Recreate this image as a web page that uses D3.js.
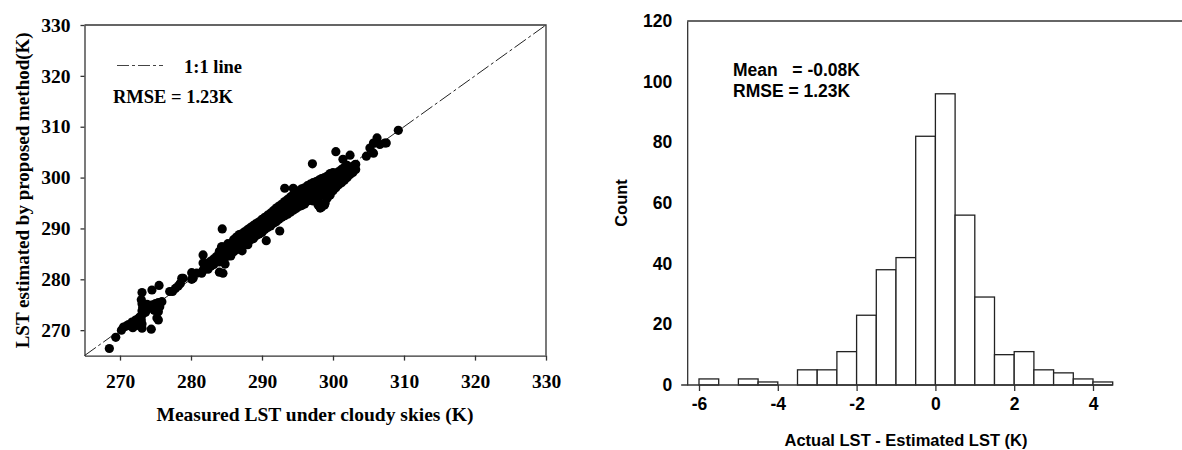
<!DOCTYPE html>
<html>
<head>
<meta charset="utf-8">
<script src="https://cdn.jsdelivr.net/npm/d3@7"></script>
<style>
  body { margin: 0; background: #fff; }
  svg { display: block; }
</style>
</head>
<body>
<svg id="chart" width="1182" height="450"></svg>
<script>
// scatter: measured LST vs estimated LST (K)
const measured = [
  268.5, 269.4, 270.2, 270.5, 270.9, 271.2, 271.5, 271.7, 272.0, 272.2, 272.4, 272.6, 272.8, 273.0, 273.1, 273.1,
  272.3, 271.8, 273.1, 273.1, 273.2, 273.1, 273.0, 273.1, 273.4, 273.8, 274.2, 274.6, 275.0, 275.4, 275.9, 275.6,
  275.2, 274.8, 274.4, 275.4, 275.2, 275.4, 274.5, 275.5, 273.6, 273.9,
  277.0, 277.4, 277.8, 278.2, 278.5, 278.7, 278.9, 280.1, 280.1, 280.3, 280.8, 281.5, 281.7, 281.7, 281.7,
  282.0, 282.0, 282.4, 282.4, 282.8, 282.8, 283.2, 283.2, 283.2, 283.6, 283.6, 284.0, 284.0, 284.0,
  284.4, 284.4, 284.4, 284.8, 284.8, 284.8, 285.2, 285.2, 285.2, 285.6, 285.6, 285.6, 286.0, 286.0, 286.0,
  286.4, 286.4, 286.4, 286.4, 286.8, 286.8, 286.8, 287.2, 287.2, 287.2, 287.2, 287.6, 287.6, 287.6,
  288.0, 288.0, 288.0, 288.0, 288.4, 288.4, 288.4, 288.8, 288.8, 288.8, 289.2, 289.2, 289.2,
  289.6, 289.6, 289.6, 290.0, 290.0, 290.0, 290.4, 290.4, 290.4, 290.8, 290.8, 290.8, 291.2, 291.2, 291.2,
  291.6, 291.6, 291.6, 292.0, 292.0, 292.0, 292.4, 292.4, 292.4, 292.8, 292.8, 292.8, 293.2, 293.2, 293.2, 293.2,
  293.6, 293.6, 293.6, 294.0, 294.0, 294.0, 294.4, 294.4, 294.4, 294.4, 294.8, 294.8, 294.8, 295.2, 295.2, 295.2,
  295.6, 295.6, 295.6, 296.0, 296.0, 296.0, 296.4, 296.4, 296.4, 296.8, 296.8, 296.8, 297.2, 297.2, 297.2,
  297.6, 297.6, 297.6, 298.0, 298.0, 298.0, 298.0, 298.4, 298.4, 298.4, 298.4, 298.8, 298.8, 298.8, 298.8,
  299.2, 299.2, 299.2, 299.2, 299.6, 299.6, 299.6, 299.6, 300.0, 300.0, 300.0, 300.0, 300.4, 300.4, 300.4,
  300.8, 300.8, 300.8, 301.2, 301.2, 301.2, 301.6, 301.6, 301.6, 302.0, 302.0, 302.0, 302.4, 302.4,
  302.8, 302.8, 303.2, 303.2,
  297.1, 300.4, 301.4, 302.4, 303.1, 302.6, 304.7, 305.2, 305.7, 306.2, 307.3, 306.6, 307.5, 309.2,
  284.4, 284.3, 284.5, 290.6, 292.5, 298.2, 297.9, 298.9, 284.0, 305.7,
];
const estimated = [
  266.4, 268.6, 270.0, 270.6, 270.8, 271.1, 271.0, 271.6, 271.4, 272.0, 271.8, 272.3, 272.6, 272.0, 271.2, 270.4,
  270.9, 270.5, 273.0, 273.8, 274.5, 275.2, 276.0, 277.4, 275.0, 275.1, 274.9, 275.0, 275.2, 275.4, 275.6, 274.6,
  274.1, 273.9, 270.2, 272.0, 272.4, 273.6, 277.9, 278.8, 273.5, 274.2,
  277.6, 277.6, 278.2, 278.7, 279.2, 280.2, 280.2, 281.3, 280.0, 280.2, 281.2, 281.2, 281.8, 283.2, 284.8,
  282.3, 283.0, 282.0, 283.2, 282.6, 283.6, 282.9, 284.0, 283.4, 283.5, 284.5, 283.4, 284.6, 285.5,
  284.0, 285.2, 286.4, 284.3, 285.6, 283.0, 284.6, 285.8, 287.0, 285.2, 286.5, 284.6, 285.4, 286.8, 287.8,
  285.8, 287.2, 288.3, 286.3, 286.2, 287.6, 288.8, 286.4, 287.8, 289.0, 285.6, 287.0, 288.3, 289.4,
  287.2, 288.6, 289.8, 286.8, 287.8, 289.0, 290.2, 288.0, 289.4, 290.6, 288.6, 289.8, 291.0,
  288.9, 290.3, 291.3, 289.2, 290.6, 291.8, 289.8, 291.0, 292.2, 290.2, 291.5, 292.6, 290.5, 291.9, 293.0,
  291.0, 292.4, 293.5, 291.3, 292.7, 294.0, 291.8, 293.2, 294.4, 292.2, 293.6, 294.8, 292.5, 294.0, 295.3, 297.9,
  292.8, 294.3, 295.7, 293.2, 294.7, 296.2, 293.6, 295.1, 296.6, 297.9, 293.9, 295.5, 297.0, 294.3, 295.9, 297.4,
  294.5, 296.2, 297.8, 294.8, 296.6, 298.0, 295.4, 297.0, 298.4, 295.8, 297.3, 298.7, 295.4, 297.6, 299.0,
  296.2, 298.0, 299.2, 295.2, 297.0, 298.4, 299.5, 294.2, 296.5, 298.6, 299.8, 294.6, 297.2, 299.0, 300.0,
  296.0, 297.6, 299.3, 300.3, 296.6, 298.2, 299.6, 300.8, 297.4, 298.8, 300.2, 301.0, 298.0, 299.4, 300.6,
  298.6, 300.0, 301.2, 299.0, 300.4, 301.6, 299.5, 300.8, 302.0, 300.0, 301.2, 302.4, 300.6, 301.8,
  301.0, 302.2, 301.6, 302.6,
  302.7, 305.1, 303.6, 304.4, 302.5, 301.9, 304.2, 305.8, 306.8, 307.8, 306.8, 306.5, 306.8, 309.3,
  289.9, 286.4, 281.2, 287.6, 289.5, 294.0, 294.6, 295.0, 281.4, 304.8,
];
const scatterTicks = [270, 280, 290, 300, 310, 320, 330];

// histogram of Actual LST - Estimated LST (K), bin width 0.5
const binStarts = [-6, -5.5, -5, -4.5, -4, -3.5, -3, -2.5, -2, -1.5, -1, -0.5, 0, 0.5, 1, 1.5, 2, 2.5, 3, 3.5, 4];
const binCounts = [2, 0, 2, 1, 0, 5, 5, 11, 23, 38, 42, 82, 96, 56, 29, 10, 11, 5, 4, 2, 1];
const histXTicks = [-6, -4, -2, 0, 2, 4];
const histYTicks = [0, 20, 40, 60, 80, 100, 120];

const svg = d3.select('#chart');
const serif = '"Liberation Serif", "Times New Roman", serif';
const sans = '"Liberation Sans", Arial, sans-serif';
const axisColor = '#333';

// ---------- left panel: scatter ----------
const x1 = d3.scaleLinear().domain([265, 330]).range([84.5, 546]);
const y1 = d3.scaleLinear().domain([265, 330]).range([355.6, 25]);

const left = svg.append('g');

// frame top + right
left.append('path')
  .attr('d', `M${x1(265)},${y1(330)}H${x1(330)}V${y1(265)}`)
  .attr('fill', 'none')
  .attr('stroke', axisColor)
  .attr('stroke-width', 1.3);

const xAxis1 = left.append('g')
  .attr('transform', `translate(0,${y1(265)})`)
  .call(d3.axisBottom(x1).tickValues(scatterTicks).tickSizeInner(5).tickSizeOuter(0).tickPadding(14));
const yAxis1 = left.append('g')
  .attr('transform', `translate(${x1(265)},0)`)
  .call(d3.axisLeft(y1).tickValues(scatterTicks).tickSizeInner(4).tickSizeOuter(0).tickPadding(10));

[xAxis1, yAxis1].forEach((a) => {
  a.selectAll('path, line').attr('stroke', axisColor).attr('stroke-width', 1.3);
  a.selectAll('text')
    .attr('fill', '#000')
    .style('font-family', serif)
    .style('font-weight', 'bold')
    .style('font-size', '19.5px');
});

// 1:1 line
left.append('line')
  .attr('x1', x1(265)).attr('y1', y1(265))
  .attr('x2', x1(330)).attr('y2', y1(330))
  .attr('stroke', '#222')
  .attr('stroke-width', 1)
  .attr('stroke-dasharray', '14,3,3,3');

// points
const pts = measured.map((m, i) => [m, estimated[i]]);
left.append('g')
  .selectAll('circle')
  .data(pts)
  .join('circle')
    .attr('cx', d => x1(d[0]))
    .attr('cy', d => y1(d[1]))
    .attr('r', 4.6)
    .attr('fill', '#000');

// legend
left.append('line')
  .attr('x1', 117).attr('x2', 163)
  .attr('y1', 65.5).attr('y2', 65.5)
  .attr('stroke', '#444')
  .attr('stroke-width', 1)
  .attr('stroke-dasharray', '12,3,3,3');
left.append('text')
  .attr('x', 184).attr('y', 72.5)
  .style('font-family', serif).style('font-weight', 'bold').style('font-size', '18.5px')
  .text('1:1 line');
left.append('text')
  .attr('x', 113).attr('y', 102.5)
  .style('font-family', serif).style('font-weight', 'bold').style('font-size', '18.5px')
  .text('RMSE = 1.23K');

// axis titles
left.append('text')
  .attr('x', 315).attr('y', 421)
  .attr('text-anchor', 'middle')
  .style('font-family', serif).style('font-weight', 'bold').style('font-size', '19.5px')
  .text('Measured LST under cloudy skies (K)');
left.append('text')
  .attr('transform', `translate(29,${(y1(265) + y1(330)) / 2}) rotate(-90)`)
  .attr('text-anchor', 'middle')
  .style('font-family', serif).style('font-weight', 'bold').style('font-size', '19px')
  .text('LST estimated by proposed method(K)');

// ---------- right panel: histogram ----------
const x2 = d3.scaleLinear().domain([-6, 4]).range([699, 1093]);
const y2 = d3.scaleLinear().domain([0, 120]).range([385, 21]);
const right = svg.append('g');
const yAxisX = x2(-6.3);

// top frame line, runs off the right edge
right.append('line')
  .attr('x1', yAxisX).attr('x2', 1182)
  .attr('y1', y2(120)).attr('y2', y2(120))
  .attr('stroke', axisColor).attr('stroke-width', 1.3);

// bars
right.append('g')
  .selectAll('rect')
  .data(binStarts.map((b, i) => ({ b, c: binCounts[i] })).filter(d => d.c > 0))
  .join('rect')
    .attr('x', d => x2(d.b))
    .attr('width', d => x2(d.b + 0.5) - x2(d.b))
    .attr('y', d => y2(d.c))
    .attr('height', d => y2(0) - y2(d.c))
    .attr('fill', '#fff')
    .attr('stroke', '#222')
    .attr('stroke-width', 1.3);

const xAxis2 = right.append('g')
  .attr('transform', `translate(0,${y2(0)})`)
  .call(d3.axisBottom(x2).tickValues(histXTicks).tickFormat(d => String(d))
    .tickSizeInner(6).tickSizeOuter(0).tickPadding(7));
xAxis2.select('.domain').attr('d', `M${yAxisX - 6},0H${x2(4.5)}`);

const yAxis2 = right.append('g')
  .attr('transform', `translate(${yAxisX},0)`)
  .call(d3.axisLeft(y2).tickValues(histYTicks).tickSize(0).tickPadding(15));

[xAxis2, yAxis2].forEach((a) => {
  a.selectAll('path, line').attr('stroke', axisColor).attr('stroke-width', 1.3);
  a.selectAll('text')
    .attr('fill', '#000')
    .style('font-family', sans)
    .style('font-weight', 'bold')
    .style('font-size', '17.5px');
});

// annotations
right.append('text')
  .attr('x', 733).attr('y', 76)
  .attr('xml:space', 'preserve')
  .style('font-family', sans).style('font-weight', 'bold').style('font-size', '17.5px')
  .text('Mean   = -0.08K');
right.append('text')
  .attr('x', 733).attr('y', 96.5)
  .style('font-family', sans).style('font-weight', 'bold').style('font-size', '17.5px')
  .text('RMSE = 1.23K');

// axis titles
right.append('text')
  .attr('x', 906).attr('y', 446)
  .attr('text-anchor', 'middle')
  .style('font-family', sans).style('font-weight', 'bold').style('font-size', '16.5px')
  .text('Actual LST - Estimated LST (K)');
right.append('text')
  .attr('transform', `translate(627,${(y2(0) + y2(120)) / 2}) rotate(-90)`)
  .attr('text-anchor', 'middle')
  .style('font-family', sans).style('font-weight', 'bold').style('font-size', '16.5px')
  .text('Count');
</script>
</body>
</html>
